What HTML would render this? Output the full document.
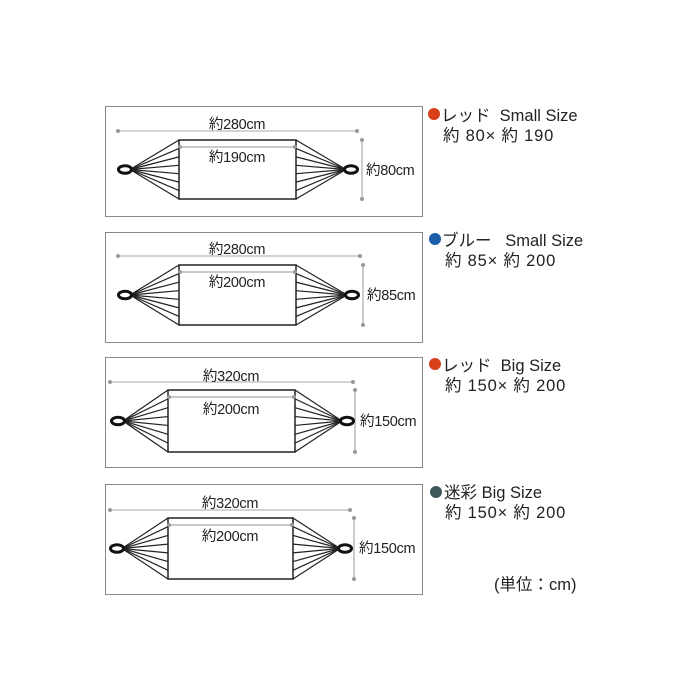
<!DOCTYPE html>
<html><head><meta charset="utf-8"><style>
html,body{margin:0;padding:0;background:#fff;width:700px;height:700px;overflow:hidden}
svg text{font-family:"Liberation Sans","Noto Sans CJK JP",sans-serif;fill:#222;white-space:pre}
</style></head><body>
<svg id="s" width="700" height="700" xmlns="http://www.w3.org/2000/svg" xml:space="preserve">
<g fill="none" stroke="#888" stroke-width="1">
<rect x="105.5" y="106.5" width="317" height="110"/>
<rect x="105.5" y="232.5" width="317" height="110"/>
<rect x="105.5" y="357.5" width="317" height="110"/>
<rect x="105.5" y="484.5" width="317" height="110"/>
</g>
<g id="h"></g>
<g font-size="14.5" letter-spacing="-0.3">
<text x="237" y="129" text-anchor="middle">約280cm</text>
<text x="237" y="162" text-anchor="middle">約190cm</text>
<text x="366" y="175">約80cm</text>
<text x="237" y="254" text-anchor="middle">約280cm</text>
<text x="237" y="287" text-anchor="middle">約200cm</text>
<text x="367" y="300">約85cm</text>
<text x="231" y="381" text-anchor="middle">約320cm</text>
<text x="231" y="414" text-anchor="middle">約200cm</text>
<text x="360" y="426">約150cm</text>
<text x="230" y="508" text-anchor="middle">約320cm</text>
<text x="230" y="541" text-anchor="middle">約200cm</text>
<text x="359" y="553">約150cm</text>
</g>
<g font-size="16.5">
<circle cx="434" cy="114" r="6" fill="#d8401a"/>
<text x="441" y="121">レッド  Small Size</text>
<text x="443" y="141" letter-spacing="0.8">約 80× 約 190</text>
<circle cx="435" cy="239" r="6" fill="#1a5fa8"/>
<text x="442" y="246">ブルー   Small Size</text>
<text x="445" y="266" letter-spacing="0.8">約 85× 約 200</text>
<circle cx="435" cy="364" r="6" fill="#d8401a"/>
<text x="442" y="371">レッド  Big Size</text>
<text x="445" y="391" letter-spacing="0.8">約 150× 約 200</text>
<circle cx="436" cy="492" r="6" fill="#3e5a5a"/>
<text x="444" y="498">迷彩 Big Size</text>
<text x="445" y="518" letter-spacing="0.8">約 150× 約 200</text>
<text x="494" y="590">(単位：cm)</text>
</g>
</svg>
<script>
var g=document.getElementById('h'),o='';
function L(x1,y1,x2,y2,c,w){o+='<line x1="'+x1+'" y1="'+y1+'" x2="'+x2+'" y2="'+y2+'" stroke="'+c+'" stroke-width="'+w+'"/>';}
function D(x,y){o+='<circle cx="'+x+'" cy="'+y+'" r="2" fill="#999"/>';}
function H(p){
 L(p.tx1,p.ty,p.tx2,p.ty,'#aaa',1);D(p.tx1,p.ty);D(p.tx2,p.ty);
 L(p.vx,p.y1,p.vx,p.y2,'#aaa',1.2);D(p.vx,p.y1);D(p.vx,p.y2);
 o+='<rect x="'+p.x1+'" y="'+p.y1+'" width="'+(p.x2-p.x1)+'" height="'+(p.y2-p.y1)+'" fill="#fff" stroke="#222" stroke-width="1.5"/>';
 L(p.x1+1,p.y1+7,p.x2-1,p.y1+7,'#aaa',1.2);D(p.x1+1,p.y1+7);D(p.x2-1,p.y1+7);
 var cy=(p.y1+p.y2)/2;
 for(var i=0;i<8;i++){var y=p.y1+(p.y2-p.y1)*i/7;
  L(p.lx+5,cy,p.x1,y,'#222',1.2);L(p.rx-5,cy,p.x2,y,'#222',1.2);}
 o+='<ellipse cx="'+p.lx+'" cy="'+cy+'" rx="6.5" ry="3.8" fill="#fff" stroke="#111" stroke-width="3"/>';
 o+='<ellipse cx="'+p.rx+'" cy="'+cy+'" rx="6.5" ry="3.8" fill="#fff" stroke="#111" stroke-width="3"/>';
}
H({tx1:118,tx2:357,ty:131,x1:179,x2:296,y1:140,y2:199,lx:125,rx:351,vx:362});
H({tx1:118,tx2:360,ty:256,x1:179,x2:296,y1:265,y2:325,lx:125,rx:352,vx:363});
H({tx1:110,tx2:353,ty:382,x1:168,x2:295,y1:390,y2:452,lx:118,rx:347,vx:355});
H({tx1:110,tx2:350,ty:510,x1:168,x2:293,y1:518,y2:579,lx:117,rx:345,vx:354});
g.innerHTML=o;
</script>
</body></html>
